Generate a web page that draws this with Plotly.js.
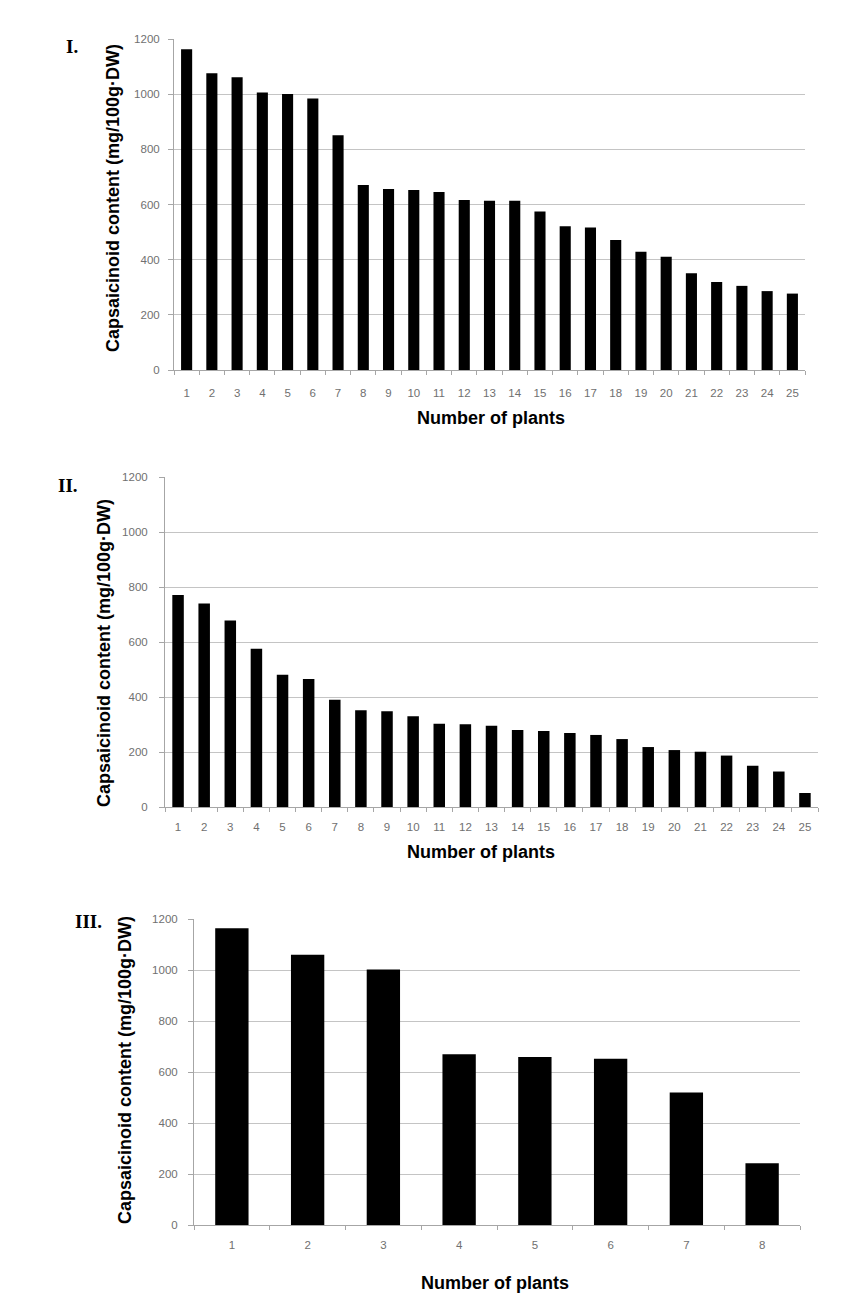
<!DOCTYPE html>
<html><head><meta charset="utf-8">
<script src="https://cdn.plot.ly/plotly-3.0.1.min.js"></script>
<style>html,body{margin:0;padding:0;background:#fff}</style>
</head><body><div id="chart" style="width:858px;height:1310px"></div>
<script>
// ---- data ----
const plantsI = ["1","2","3","4","5","6","7","8","9","10","11","12","13","14","15","16","17","18","19","20","21","22","23","24","25"];
const capsaicinoidI = [1163,1076,1061,1006,1001,984,851,671,656,653,645,616,614,614,575,521,517,471,429,411,351,319,305,286,277];
const plantsII = ["1","2","3","4","5","6","7","8","9","10","11","12","13","14","15","16","17","18","19","20","21","22","23","24","25"];
const capsaicinoidII = [771,740,678,575,481,465,390,352,348,330,303,301,295,280,276,269,262,247,218,207,201,187,150,129,51];
const plantsIII = ["1","2","3","4","5","6","7","8"];
const capsaicinoidIII = [1164,1060,1002,670,659,652,520,242];
const yTicks = [0,200,400,600,800,1000,1200];
const panelLabels = ["I.","II.","III."];
const yTitle = "Capsaicinoid content (mg/100g·DW)";
const xTitle = "Number of plants";

// ---- layout helpers ----
const W = 858, H = 1310;
const px = x => x / W;
const py = y => 1 - y / H;

function bar(x, y, xa, ya) {
  return {type: "bar", x: x, y: y, xaxis: xa, yaxis: ya,
          marker: {color: "#000000", line: {width: 0}}, hoverinfo: "x+y", showlegend: false};
}

const tickFont = {family: "Liberation Sans, Arial, sans-serif", size: 11.5, color: "#707070"};
function xAxis(l, r, anchor, standoff) {
  return {domain: [px(l), px(r)], anchor: anchor, type: "category",
          showgrid: false, showline: true, linecolor: "#a6a6a6", linewidth: 1,
          ticks: "outside", tickson: "boundaries", ticklen: 4, tickcolor: "#a6a6a6",
          tickfont: tickFont, ticklabelstandoff: standoff, zeroline: false, fixedrange: true};
}
function yAxis(top, bottom, anchor, standoff) {
  return {domain: [py(bottom), py(top)], anchor: anchor, range: [0, 1200],
          tickvals: yTicks, showgrid: true, gridcolor: "#c4c4c4", gridwidth: 1,
          showline: true, linecolor: "#a6a6a6", linewidth: 1,
          ticks: "outside", ticklen: 5, tickcolor: "#a6a6a6",
          tickfont: tickFont, ticklabelstandoff: standoff, zeroline: false, fixedrange: true};
}

const titleFont = {family: "Liberation Sans, Arial, sans-serif", size: 18, color: "#000"};
const labelFont = {family: "Liberation Serif, Times New Roman, serif", size: 19, color: "#000"};
function ann(text, x, y, font, angle) {
  return {text: text, xref: "paper", yref: "paper", x: px(x), y: py(y),
          xanchor: "center", yanchor: "middle", showarrow: false, font: font,
          textangle: angle || 0};
}

const data = [
  bar(plantsI, capsaicinoidI, "x", "y"),
  bar(plantsII, capsaicinoidII, "x2", "y2"),
  bar(plantsIII, capsaicinoidIII, "x3", "y3")
];

const layout = {
  width: W, height: H,
  margin: {l: 0, r: 0, t: 0, b: 0},
  paper_bgcolor: "#ffffff", plot_bgcolor: "#ffffff",
  bargap: 0.56,
  showlegend: false,
  xaxis: xAxis(174, 805, "y", 12),
  yaxis: yAxis(39, 370, "x", 6),
  xaxis2: xAxis(165, 818, "y2", 9),
  yaxis2: yAxis(477, 807, "x2", 9),
  xaxis3: xAxis(194, 800, "y3", 9),
  yaxis3: yAxis(919, 1225, "x3", 8),
  annotations: [
    ann("<b>" + panelLabels[0] + "</b>", 72, 47, labelFont),
    ann("<b>" + panelLabels[1] + "</b>", 68, 486, labelFont),
    ann("<b>" + panelLabels[2] + "</b>", 88, 921, labelFont),
    ann("<b>" + yTitle + "</b>", 113, 198, titleFont, -90),
    ann("<b>" + yTitle + "</b>", 104, 653, titleFont, -90),
    ann("<b>" + yTitle + "</b>", 125, 1070, titleFont, -90),
    ann("<b>" + xTitle + "</b>", 491, 418, titleFont),
    ann("<b>" + xTitle + "</b>", 481, 852, titleFont),
    ann("<b>" + xTitle + "</b>", 495, 1283, titleFont)
  ]
};

Plotly.newPlot("chart", data, layout, {displayModeBar: false, staticPlot: true});
</script>
</body></html>
